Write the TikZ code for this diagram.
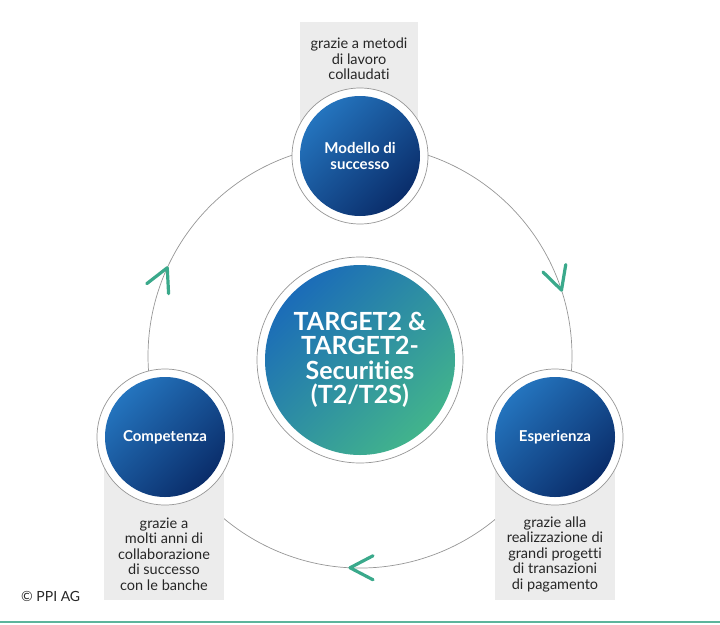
\documentclass[tikz,border=0pt]{standalone}
\usepackage{fontspec}
\setmainfont{Lato}[Ligatures={CommonOff}]
\usetikzlibrary{calc}
\definecolor{boxgray}{HTML}{ECECEC}
\definecolor{ringgray}{HTML}{969696}
\definecolor{accentteal}{HTML}{3AA98B}
\definecolor{blueA}{HTML}{2474BE}
\definecolor{blueB}{HTML}{0A2D6A}
\definecolor{ctrA}{HTML}{1B6CB8}
\definecolor{ctrB}{HTML}{42B48C}
\definecolor{baseline}{HTML}{5DB49C}
\begin{document}
\begin{tikzpicture}[x=1pt,y=1pt,
  ring/.style={draw=ringgray,line width=0.7pt},
  graybox/.style={fill=boxgray,draw=none},
  whitering/.style={circle,draw=ringgray,line width=0.7pt,fill=white,inner sep=0pt},
  bluedisc/.style={circle,inner sep=0pt,minimum size=120pt,top color=blueA,bottom color=blueB,shading angle=45,
    text=white,align=center,font=\fontsize{15}{16.5}\selectfont\bfseries},
  ctrdisc/.style={circle,inner sep=0pt,minimum size=190pt,top color=ctrA,bottom color=ctrB,shading angle=45,
    text=white,align=center,font=\fontsize{25}{24.5}\selectfont\bfseries},
  boxtext/.style={align=center,text=black!85,font=\fontsize{14.5}{15.5}\selectfont,inner sep=0pt},
  chevline/.style={draw=accentteal,line width=3.2pt,line cap=round,line join=round},
  chev/.pic={\draw[chevline] (-23,12) -- (0,0) -- (-23,-12);}
]
\useasboundingbox (0,0) rectangle (720,-624);
\coordinate (c) at (360,-356);
% ring connectors
\draw[ring] ($(c)+(90:212)$) arc[start angle=90,end angle=-22.6,radius=212];
\draw[ring] ($(c)+(-22.6:212)$) arc[start angle=-22.6,end angle=-157.4,radius=212];
\draw[ring] ($(c)+(202.6:212)$) arc[start angle=202.6,end angle=90,radius=212];
% gray boxes
\fill[graybox] (300,-22) rectangle (418,-156);
\fill[graybox] (104,-437) rectangle (224,-600);
\fill[graybox] (495,-437) rectangle (615,-600);
% box texts
\node[boxtext] (ttop) at (359,-59) {grazie a metodi\\di lavoro\\collaudati};
\node[boxtext] (tleft) at (164,-554) {grazie a\\molti anni di\\collaborazione\\di successo\\con le banche};
\node[boxtext] (tright) at (555,-554) {grazie alla\\realizzazione di\\grandi progetti\\di transazioni\\di pagamento};
% nodes
\node[whitering,minimum size=136pt] (topO) at (360,-156) {};
\node[bluedisc] (top) at (topO) {Modello di\\successo};
\node[whitering,minimum size=136pt] (leftO) at (165,-437) {};
\node[bluedisc] (left) at (leftO) {Competenza};
\node[whitering,minimum size=136pt] (rightO) at (555,-437) {};
\node[bluedisc] (right) at (rightO) {Esperienza};
\node[whitering,minimum size=206pt] (ctrO) at (360,-360) {};
\node[ctrdisc] (ctr) at (ctrO) {TARGET2 \&\\TARGET2-\\Securities\\(T2/T2S)};
% chevrons
\pic[rotate=-71.9] at ($(c)+(18.1:212)$) {chev};
\pic[rotate=180] at ($(c)+(267.3:212)$) {chev};
\pic[rotate=65.4] at ($(c)+(155.4:212)$) {chev};
% copyright and base line
\node[anchor=west,inner sep=0pt,font=\fontsize{14}{15}\selectfont,text=black!85] (copy) at (21,-596) {© PPI AG};
\draw[draw=baseline,line width=2pt] (0,-622) -- (720,-622);
\end{tikzpicture}
\end{document}
